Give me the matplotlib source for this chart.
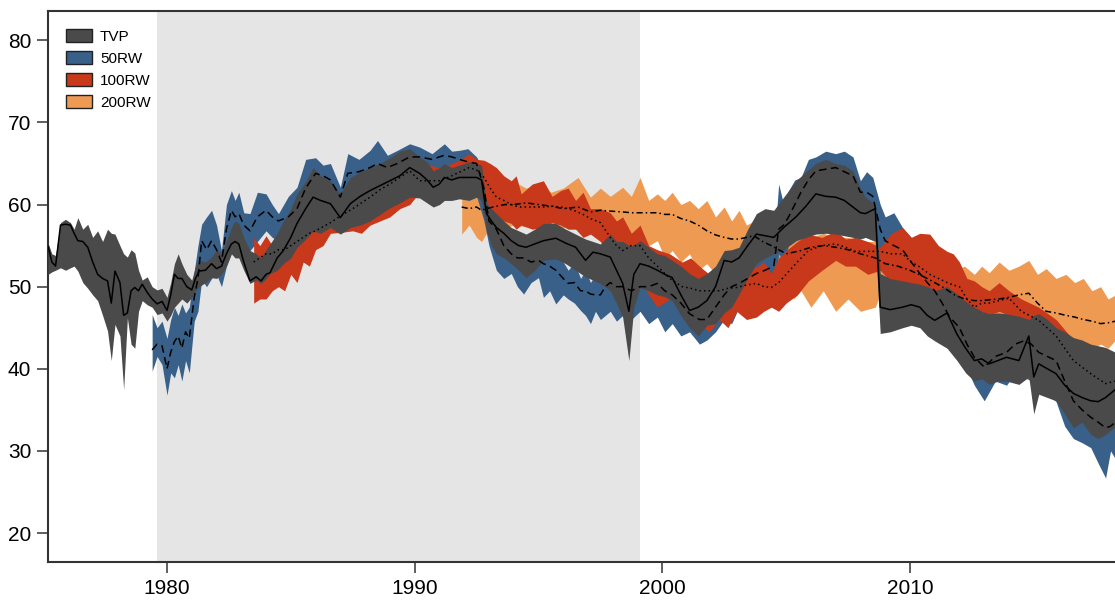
import numpy as np
import matplotlib.pyplot as plt

plt.rcParams['font.family'] = ['Liberation Sans', 'DejaVu Sans']

# shaded period
shade_start, shade_end = 1979.6, 1999.1

# TVP band: year, lower, median, upper
tvp_year = [1975.2, 1975.35, 1975.5, 1975.7, 1975.9, 1976.1, 1976.25, 1976.4, 1976.6, 1976.8,
            1977.0, 1977.2, 1977.4, 1977.6, 1977.75, 1977.9, 1978.1, 1978.25, 1978.4, 1978.55,
            1978.7, 1978.85, 1979.0, 1979.2, 1979.4, 1979.6, 1979.8, 1980.0, 1980.15, 1980.3,
            1980.45, 1980.6, 1980.8, 1981.0, 1981.15, 1981.3, 1981.55, 1981.8, 1982.0, 1982.2,
            1982.4, 1982.6, 1982.75, 1982.9, 1983.1, 1983.35, 1983.6, 1983.8, 1984.0, 1984.16,
            1984.45, 1984.7, 1985.0, 1985.25, 1985.6, 1985.9, 1986.2, 1986.6, 1987.0, 1987.4,
            1987.8, 1988.2, 1988.6, 1989.0, 1989.4, 1989.8, 1990.2, 1990.5, 1990.75, 1991.0,
            1991.2, 1991.5, 1991.8, 1992.2, 1992.5, 1992.7, 1992.9, 1993.1, 1993.3, 1993.6,
            1993.9, 1994.2, 1994.5, 1994.85, 1995.2, 1995.7, 1996.1, 1996.5, 1996.9, 1997.2,
            1997.5, 1997.9, 1998.15, 1998.4, 1998.65, 1998.85, 1999.1, 1999.45, 1999.8, 2000.1,
            2000.4, 2000.75, 2001.1, 2001.45, 2001.8, 2002.15, 2002.5, 2002.8, 2003.1, 2003.45,
            2003.8, 2004.15, 2004.5, 2004.9, 2005.4, 2005.8, 2006.2, 2006.6, 2007.0, 2007.35,
            2007.7, 2008.0, 2008.2, 2008.6, 2008.8, 2009.2, 2009.7, 2010.05, 2010.4, 2010.7,
            2011.0, 2011.5, 2011.9, 2012.25, 2012.6, 2012.9, 2013.2, 2013.55, 2013.9, 2014.4,
            2014.8, 2015.0, 2015.2, 2015.55, 2015.9, 2016.25, 2016.6, 2016.95, 2017.3, 2017.6,
            2017.9, 2018.3]
tvp_lo = [51.5, 51.8, 52.0, 52.3, 52.0, 52.3, 52.5, 51.9, 50.5, 49.8,
          49.0, 48.3, 46.5, 44.6, 41.0, 45.4, 44.0, 37.5, 46.2, 43.0,
          42.5, 47.0, 48.3, 47.8, 47.5, 46.6, 46.8, 45.8, 46.5, 47.5,
          48.0, 48.5, 48.0, 48.7, 49.5, 50.0, 50.5, 51.1, 51.0, 51.5,
          52.5, 54.0, 53.5, 53.5, 52.0, 50.4, 50.8, 50.4, 51.0, 51.6,
          52.0, 52.8, 53.5, 54.8, 55.8, 56.8, 56.5, 57.2, 56.4, 57.2,
          57.5, 58.0, 58.8, 59.6, 60.2, 60.9, 60.8, 60.2, 59.7, 60.0,
          60.5, 60.5, 60.7, 60.5, 60.9, 60.5, 56.8, 55.0, 54.0, 53.5,
          52.8, 52.0, 51.1, 52.0, 53.2, 53.4, 52.8, 52.0, 51.2, 50.8,
          50.4, 49.5, 48.0, 46.3, 41.0, 47.5, 49.9, 49.5, 49.0, 48.8,
          48.3, 46.5, 45.0, 44.0, 45.3, 45.5, 46.8, 47.5, 49.1, 51.0,
          52.8, 53.5, 54.0, 54.5, 55.6, 56.0, 56.4, 56.5, 56.4, 56.2,
          56.0, 55.8, 56.0, 55.5, 44.3, 44.5, 45.0, 45.3, 45.0, 44.0,
          43.4, 42.5, 41.0, 39.5, 38.5, 38.8, 38.1, 38.5, 38.5, 38.1,
          39.0, 34.5, 36.9, 36.5, 36.1, 34.5, 32.8, 33.5, 32.0, 31.5,
          32.0, 33.0]
tvp_mid = [54.9, 53.0, 52.5, 57.5, 57.6, 57.5, 56.5, 55.6, 55.5, 54.8,
           53.0, 51.5, 51.0, 50.7, 48.0, 51.9, 50.5, 46.5, 46.8, 49.5,
           49.9, 49.5, 50.3, 49.3, 48.5, 47.9, 48.2, 47.1, 49.0, 51.5,
           51.0, 51.0, 50.0, 49.6, 51.0, 51.9, 52.0, 52.8, 52.2, 52.5,
           54.0, 55.2, 55.5, 55.2, 53.0, 50.7, 51.2, 50.7, 51.5, 51.7,
           53.5, 54.4, 56.0, 57.7, 59.5, 60.9, 60.5, 60.1, 58.4, 60.1,
           61.0, 61.7, 62.3, 62.9, 63.5, 64.5, 63.8, 63.0, 62.1, 62.5,
           63.3, 63.0, 63.3, 63.3, 63.3, 63.0, 58.9, 58.0, 57.2, 56.5,
           55.6, 55.0, 54.8, 55.2, 55.6, 55.9, 55.3, 54.8, 53.2, 54.2,
           54.0, 53.6, 52.0, 50.4, 47.0, 51.5, 52.8, 52.5, 52.0, 51.5,
           51.1, 49.0, 47.1, 47.5, 48.3, 50.0, 53.2, 53.0, 53.5, 55.0,
           56.4, 56.2, 56.0, 57.2, 58.5, 59.8, 61.3, 61.0, 60.9, 60.5,
           59.7, 59.0, 58.9, 59.5, 47.5, 47.2, 47.5, 47.8, 47.5, 46.5,
           45.9, 46.8, 44.2, 42.5, 41.0, 41.2, 40.6, 41.0, 41.4, 41.0,
           44.0, 39.0, 40.6, 40.0, 39.4, 38.0, 37.0, 36.5, 36.1, 36.0,
           36.5, 37.5]
tvp_hi = [55.3, 54.0, 53.8, 57.8, 58.2, 57.8, 57.0, 58.4, 57.0, 57.6,
          56.0, 56.8, 55.5, 57.0, 56.5, 56.4, 55.0, 54.0, 53.6, 54.5,
          54.1, 52.0, 50.8, 51.2, 50.0, 49.6, 49.8, 48.7, 50.5, 52.8,
          54.0, 52.8, 51.5, 50.8, 52.5, 53.2, 53.0, 53.6, 54.5, 54.0,
          55.5, 57.2, 58.0, 57.7, 56.0, 54.4, 54.0, 53.5, 54.5, 55.2,
          56.5, 58.0, 59.5, 61.3, 62.8, 64.5, 63.5, 62.9, 61.3, 63.3,
          64.0, 64.5, 65.0, 65.7, 66.5, 66.8, 65.8, 65.2, 64.1, 64.5,
          65.0, 64.5, 64.8, 65.2, 65.0, 64.8, 60.1, 59.5, 58.9, 58.0,
          57.2, 56.8, 56.4, 57.0, 57.7, 57.7, 57.0, 56.4, 55.8, 55.5,
          55.2, 56.4, 55.5, 55.5, 55.0, 55.0, 55.6, 54.8, 54.0, 53.8,
          53.2, 52.5, 51.6, 51.0, 51.6, 52.5, 54.4, 54.5, 54.8, 57.0,
          58.9, 59.5, 59.3, 60.9, 62.9, 64.0, 65.0, 65.5, 65.0, 64.8,
          64.1, 62.0, 60.9, 60.0, 51.6, 51.0, 50.7, 50.5, 50.3, 50.0,
          49.5, 50.0, 49.1, 48.2, 47.5, 47.0, 46.7, 46.8, 46.7, 46.4,
          46.0, 46.5, 46.7, 46.0, 45.0, 44.5, 43.8, 43.5, 43.0, 42.8,
          42.6, 42.0]

# 50RW band
rw50_year = [1979.4, 1979.6, 1979.8, 1980.0, 1980.15, 1980.3, 1980.45, 1980.6, 1980.75, 1980.9,
             1981.1, 1981.25, 1981.4, 1981.6, 1981.8, 1982.0, 1982.2, 1982.4, 1982.6, 1982.75,
             1982.9, 1983.1, 1983.35, 1983.65, 1984.0, 1984.25, 1984.5, 1984.9, 1985.25, 1985.6,
             1986.0, 1986.3, 1986.6, 1987.0, 1987.3, 1987.75, 1988.2, 1988.5, 1988.9, 1989.3,
             1989.8, 1990.2, 1990.7, 1991.2, 1991.5, 1991.8, 1992.15, 1992.5, 1992.8, 1993.0,
             1993.3, 1993.6, 1993.9, 1994.15, 1994.4, 1994.7, 1995.0, 1995.2, 1995.45, 1995.7,
             1996.0, 1996.2, 1996.45, 1996.7, 1996.9, 1997.1, 1997.3, 1997.5, 1997.7, 1997.9,
             1998.15, 1998.4, 1998.75, 1999.1, 1999.45, 1999.8, 2000.1, 2000.4, 2000.75, 2001.1,
             2001.5, 2001.8, 2002.15, 2002.5, 2002.8, 2003.1, 2003.45, 2003.8, 2004.15, 2004.5,
             2004.7, 2004.9, 2005.1, 2005.35, 2005.6, 2005.9, 2006.2, 2006.6, 2007.0, 2007.35,
             2007.7, 2008.0, 2008.25, 2008.5, 2008.8, 2009.0, 2009.35, 2009.7, 2010.05, 2010.4,
             2010.7, 2011.0, 2011.3, 2011.6, 2012.0, 2012.3, 2012.6, 2013.0, 2013.45, 2013.9,
             2014.25, 2014.6, 2014.9, 2015.2, 2015.55, 2015.9, 2016.25, 2016.6, 2016.95, 2017.3,
             2017.6, 2017.9, 2018.1, 2018.3]
rw50_lo = [39.7, 41.5, 40.5, 36.8, 39.5, 38.9, 40.5, 38.5, 41.0, 39.5,
           45.8, 47.0, 50.8, 50.0, 51.0, 51.5, 50.0, 52.5, 54.1, 54.5,
           53.5, 54.5, 54.4, 55.5, 56.8, 56.0, 55.6, 55.0, 55.0, 56.5,
           58.0, 58.5, 58.5, 59.3, 59.0, 59.5, 60.0, 60.5, 60.5, 61.0,
           62.0, 62.0, 62.0, 62.0, 62.0, 61.5, 61.5, 61.0, 58.0, 55.0,
           52.0, 51.0, 51.6, 50.0, 49.1, 50.5, 51.1, 48.7, 49.5, 47.9,
           49.0, 48.5, 48.0, 47.1, 46.5, 45.5, 47.0, 46.0, 46.5, 47.0,
           45.8, 46.5, 46.0, 47.0, 45.5, 46.3, 44.5, 45.5, 44.0, 44.5,
           43.0, 43.5, 44.5, 46.0, 45.5, 47.5, 46.5, 47.9, 48.0, 49.0,
           54.0, 53.0, 55.0, 55.5, 57.0, 57.5, 58.5, 58.5, 59.0, 59.0,
           58.5, 57.5, 57.0, 58.0, 53.0, 52.0, 52.5, 51.6, 50.5, 49.5,
           48.0, 46.5, 45.0, 44.5, 42.0, 40.0, 38.0, 36.1, 38.5, 38.0,
           39.5, 39.0, 38.5, 37.5, 37.0, 36.0, 33.0, 31.5, 31.0, 30.4,
           28.5, 26.7, 30.0, 29.0]
rw50_mid = [42.3, 43.0, 42.8, 40.0, 42.0, 43.3, 44.0, 42.5, 44.5, 43.7,
            48.7, 51.0, 55.6, 54.5, 55.6, 54.5, 53.0, 57.0, 59.3, 58.5,
            58.9, 57.5, 56.8, 58.5, 59.3, 58.5, 58.0, 58.5, 59.5, 62.0,
            63.8, 63.5, 63.0, 60.9, 63.8, 64.0, 64.5, 65.0, 64.5, 65.0,
            65.8, 65.8, 65.5, 66.0, 65.8, 65.5, 65.2, 65.0, 62.0, 58.0,
            57.0, 55.0, 54.0, 53.5, 53.5, 53.0, 53.2, 52.8, 52.5, 52.0,
            51.0, 50.4, 50.5, 49.5, 49.5, 49.1, 49.0, 49.0, 50.0, 50.5,
            50.0, 50.0, 49.5, 50.0, 50.0, 50.4, 49.5, 49.0, 48.0, 46.7,
            46.0, 46.0, 47.5, 49.0, 50.0, 50.4, 51.0, 51.6, 52.0, 52.5,
            57.0, 57.5, 58.5, 60.0, 61.5, 63.0, 64.1, 64.3, 64.5, 64.0,
            63.5, 61.5, 61.5, 61.0, 57.0, 55.6, 55.0, 54.5, 53.0, 51.6,
            50.5, 49.5, 48.0, 46.3, 45.0, 43.0, 41.4, 40.2, 41.5, 42.0,
            43.0, 43.4, 43.0, 42.0, 41.5, 41.0, 38.5, 36.1, 35.0, 34.1,
            33.5, 32.8, 33.0, 33.5]
rw50_hi = [46.6, 45.0, 45.8, 43.7, 46.0, 47.5, 46.5, 47.9, 46.8, 47.5,
           51.9, 55.0, 57.6, 58.5, 59.3, 57.5, 54.4, 60.0, 61.7, 60.5,
           61.5, 59.0, 58.9, 61.5, 61.3, 60.0, 58.9, 61.0, 62.1, 65.5,
           65.7, 64.8, 65.0, 62.1, 66.2, 65.5, 66.6, 67.8, 66.0, 66.6,
           67.4, 67.0, 66.2, 67.4, 66.5, 66.6, 66.8, 65.8, 64.1, 59.7,
           58.5, 57.5, 56.5, 55.5, 56.0, 55.0, 55.8, 55.2, 55.5, 54.0,
           53.0, 52.0, 53.0, 51.0, 52.0, 50.5, 51.5, 50.8, 53.0, 52.5,
           51.8, 52.0, 52.5, 52.5, 54.0, 53.0, 52.5, 51.5, 51.0, 49.5,
           49.0, 49.0, 51.0, 52.0, 53.5, 53.0, 55.5, 54.0, 55.5, 54.5,
           62.5, 60.0, 61.7, 63.0, 63.3, 65.5, 65.8, 66.5, 66.2, 66.5,
           65.8, 62.9, 64.0, 63.3, 60.0, 58.5, 59.0, 57.2, 56.0, 54.5,
           53.5, 52.5, 51.0, 49.0, 48.0, 47.0, 45.0, 44.0, 45.0, 45.5,
           46.0, 46.5, 47.0, 45.5, 45.0, 44.0, 43.0, 41.0, 40.0, 38.5,
           38.0, 37.0, 37.5, 38.0]

# 100RW band
rw100_year = [1983.5, 1983.75, 1984.0, 1984.25, 1984.5, 1984.75, 1985.0, 1985.25, 1985.5, 1985.75,
              1986.0, 1986.3, 1986.6, 1987.0, 1987.5, 1987.85, 1988.2, 1988.6, 1989.0, 1989.4,
              1989.8, 1990.2, 1990.6, 1991.0, 1991.5, 1991.85, 1992.2, 1992.5, 1992.8, 1993.05,
              1993.3, 1993.6, 1993.9, 1994.1, 1994.3, 1994.75, 1995.2, 1995.55, 1995.9, 1996.2,
              1996.5, 1996.8, 1997.1, 1997.5, 1997.9, 1998.15, 1998.4, 1998.75, 1999.1, 1999.45,
              1999.8, 2000.3, 2000.8, 2001.15, 2001.5, 2001.9, 2002.3, 2002.65, 2003.0, 2003.4,
              2003.8, 2004.1, 2004.4, 2004.7, 2005.0, 2005.45, 2005.9, 2006.45, 2007.0, 2007.4,
              2007.8, 2008.3, 2008.8, 2009.25, 2009.7, 2010.05, 2010.4, 2010.8, 2011.15, 2011.5,
              2011.75, 2012.0, 2012.3, 2012.6, 2012.9, 2013.2, 2013.6, 2014.0, 2014.5, 2015.2,
              2015.9, 2016.6, 2017.3, 2017.9, 2018.3]
rw100_lo = [48.0, 48.5, 48.5, 49.5, 50.0, 49.5, 51.5, 50.5, 53.0, 52.5,
            54.5, 55.0, 56.5, 56.6, 56.8, 56.5, 57.5, 58.0, 58.5, 59.5,
            60.0, 61.5, 61.0, 61.8, 62.0, 62.0, 62.5, 62.0, 61.0, 59.5,
            58.5, 58.0, 57.7, 57.0, 57.5, 57.0, 57.2, 57.8, 57.5, 57.0,
            57.0, 56.0, 56.4, 55.5, 53.5, 52.5, 51.5, 52.5, 51.0, 49.0,
            47.5, 48.5, 47.5, 46.0, 45.5, 44.5, 46.0, 45.0, 47.0, 46.0,
            46.3, 47.0, 47.5, 47.0, 48.0, 49.0, 50.7, 52.0, 53.2, 52.5,
            52.5, 51.5, 52.0, 50.5, 49.9, 50.5, 50.0, 50.0, 49.0, 48.6,
            48.0, 47.5, 47.0, 46.5, 47.0, 46.5, 47.0, 46.5, 45.0, 43.0,
            41.0, 38.5, 36.5, 35.5, 36.0]
rw100_mid = [53.0, 53.5, 54.0, 54.0, 54.5, 54.5, 55.0, 55.5, 56.0, 56.5,
             56.8, 57.3, 57.8, 58.6, 59.5, 60.2, 60.9, 61.8, 62.5, 63.3,
             64.1, 62.9, 62.9, 62.9, 63.5, 64.0, 64.5, 64.2, 63.3, 62.0,
             60.9, 60.5, 60.0, 59.8, 59.7, 59.7, 59.7, 59.8, 59.7, 59.5,
             59.2, 58.8, 58.3, 57.8, 56.0, 55.0, 54.4, 55.0, 55.0, 53.5,
             52.5, 51.0, 50.0, 49.8, 49.5, 49.5, 49.5, 49.8, 49.9, 50.2,
             50.4, 50.0, 49.9, 50.5, 51.5, 53.0, 54.4, 55.0, 55.2, 54.8,
             54.3, 54.3, 54.3, 54.0, 54.0, 53.0, 52.4, 51.5, 51.0, 50.5,
             50.2, 50.0, 48.5, 47.5, 48.0, 48.0, 48.3, 48.6, 47.0, 45.9,
             44.0, 41.0, 39.4, 38.2, 38.5]
rw100_hi = [56.0, 55.0, 56.2, 55.0, 55.5, 56.5, 57.5, 57.5, 58.5, 58.5,
            59.5, 59.5, 60.0, 60.5, 61.7, 62.0, 62.5, 63.0, 64.0, 64.5,
            65.0, 64.5, 64.8, 64.5, 65.0, 65.5, 66.2, 65.5, 65.4, 65.0,
            64.5, 63.5, 62.9, 63.5, 61.3, 62.5, 62.9, 61.0, 61.7, 62.0,
            60.5, 61.5, 59.5, 59.5, 59.0, 58.0, 58.5, 56.5, 57.5, 55.0,
            54.5, 54.0, 53.0, 53.5, 52.5, 51.5, 52.5, 53.5, 54.0, 53.0,
            52.4, 53.0, 51.6, 53.5, 54.4, 55.5, 56.4, 56.0, 56.8, 55.8,
            56.0, 55.5, 54.8, 56.5, 57.2, 56.0, 56.5, 56.4, 55.0, 54.3,
            54.0, 53.0, 51.0, 50.7, 50.0, 49.5, 50.5, 49.5, 48.5, 47.5,
            46.0, 43.5, 42.0, 41.0, 41.0]

# 200RW band
rw200_year = [1991.9, 1992.2, 1992.5, 1992.7, 1992.9, 1993.3, 1993.65, 1994.0, 1994.5, 1995.0,
              1995.5, 1996.0, 1996.6, 1997.1, 1997.5, 1997.9, 1998.4, 1998.75, 1999.1, 1999.45,
              1999.8, 2000.1, 2000.4, 2000.75, 2001.1, 2001.45, 2001.8, 2002.15, 2002.5, 2002.8,
              2003.1, 2003.4, 2003.7, 2004.05, 2004.4, 2004.7, 2005.0, 2005.3, 2005.6, 2006.0,
              2006.5, 2007.0, 2007.5, 2008.0, 2008.6, 2009.0, 2009.5, 2010.0, 2010.5, 2011.0,
              2011.4, 2011.8, 2012.2, 2012.6, 2012.9, 2013.2, 2013.6, 2014.0, 2014.4, 2014.8,
              2015.15, 2015.5, 2015.9, 2016.3, 2016.65, 2017.0, 2017.35, 2017.7, 2018.0, 2018.3]
rw200_lo = [56.4, 57.5, 56.0, 55.5, 56.5, 57.0, 57.2, 57.5, 57.3, 57.5,
            57.0, 57.2, 57.5, 56.5, 56.8, 56.0, 56.0, 55.5, 56.0, 55.0,
            55.6, 53.5, 54.4, 53.0, 54.0, 52.0, 52.8, 51.5, 52.8, 51.5,
            53.2, 52.0, 54.0, 51.5, 52.0, 50.0, 50.5, 48.5, 49.5, 47.5,
            49.5, 47.0, 48.5, 47.0, 47.5, 50.5, 50.0, 50.7, 49.5, 48.5,
            47.5, 47.0, 46.0, 46.5, 46.0, 46.5, 46.0, 46.5, 45.5, 45.5,
            44.5, 44.2, 43.5, 43.8, 42.5, 43.0, 42.5, 43.0, 42.5, 43.5]
rw200_mid = [59.7, 59.5, 59.7, 59.3, 59.5, 59.8, 60.0, 60.0, 60.2, 60.0,
             59.8, 59.5, 59.7, 59.1, 59.3, 59.2, 59.1, 59.0, 59.0, 59.0,
             59.0, 58.8, 58.8, 58.3, 58.0, 57.5, 56.8, 56.3, 56.0, 55.8,
             55.8, 56.0, 56.2, 55.5, 55.0, 54.5, 54.0, 54.2, 54.4, 54.8,
             55.0, 54.8, 54.5, 54.0, 53.5, 52.8, 52.5, 52.0, 51.3, 50.5,
             49.8, 49.0, 48.5, 48.3, 48.3, 48.4, 48.5, 48.7, 49.0, 49.2,
             48.0, 47.0, 46.8, 46.5, 46.3, 46.0, 45.8, 45.5, 45.6, 45.8]
rw200_hi = [61.3, 60.5, 61.0, 60.8, 62.5, 62.5, 61.5, 62.8, 62.0, 62.5,
            61.5, 62.0, 63.3, 60.9, 62.0, 61.0, 62.1, 61.0, 63.3, 60.5,
            61.3, 60.5, 61.5, 60.0, 60.5, 59.5, 60.5, 58.5, 59.7, 58.0,
            59.3, 57.5, 58.0, 56.5, 57.0, 55.5, 56.0, 55.5, 56.0, 56.0,
            56.5, 56.0, 56.0, 55.5, 55.5, 55.0, 55.5, 55.0, 54.5, 54.0,
            53.0, 52.0, 52.5, 51.5, 52.5, 51.7, 53.0, 52.0, 52.5, 53.2,
            51.5, 52.2, 51.0, 51.5, 50.5, 51.0, 49.5, 50.0, 48.5, 49.0]

labels = ['TVP', '50RW', '100RW', '200RW']
colors = ['#4a4a4a', '#386089', '#c8381a', '#ee9a52']

fig = plt.figure(figsize=(11.15, 6.03), dpi=100)
ax = fig.add_axes([48 / 1115, 41 / 603, 1 - 48 / 1115, 551 / 603])

ax.axvspan(shade_start, shade_end, color='#e5e5e5', lw=0, zorder=0)

bands = [
    (rw200_year, rw200_lo, rw200_mid, rw200_hi, colors[3], (0, (4, 2, 1, 2))),
    (rw50_year, rw50_lo, rw50_mid, rw50_hi, colors[1], (0, (5, 3))),
    (rw100_year, rw100_lo, rw100_mid, rw100_hi, colors[2], (0, (1, 2))),
    (tvp_year, tvp_lo, tvp_mid, tvp_hi, colors[0], '-'),
]
for i, (yr, lo, mid, hi, c, ls) in enumerate(bands):
    ax.fill_between(yr, lo, hi, color=c, lw=0, zorder=1 + i)
for yr, lo, mid, hi, c, ls in bands:
    ax.plot(yr, mid, color='black', lw=1.1, ls=ls, zorder=10)

handles = [plt.Rectangle((0, 0), 1, 1, facecolor=c, edgecolor='#222222', lw=1) for c in colors]
ax.legend(handles, labels, loc='upper left', frameon=False, fontsize=11,
          handlelength=1.7, handleheight=0.85, labelspacing=0.5,
          borderaxespad=0.8, handletextpad=0.5, borderpad=0.4)

ax.set_xlim(1975.195, 2018.28)
ax.set_ylim(16.47, 83.57)
ax.set_xticks([1980, 1990, 2000, 2010])
ax.set_yticks([20, 30, 40, 50, 60, 70, 80])
ax.tick_params(direction='out', length=8, width=1.2, color='#444444', labelsize=15, pad=4)

for side in ['left', 'bottom', 'top']:
    ax.spines[side].set_color('#333333')
    ax.spines[side].set_linewidth(1.5)
ax.spines['right'].set_visible(False)

fig.savefig('out.png', dpi=100)
